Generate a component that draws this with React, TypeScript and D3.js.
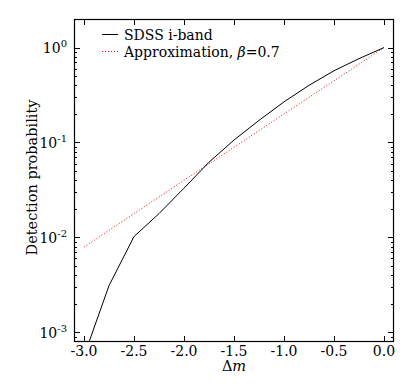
import React, { useEffect, useRef } from 'react';
import * as d3 from 'd3';

// SDSS i-band detection probability vs magnitude offset
const sdssDm = [-3.0, -2.75, -2.5, -2.25, -2.0, -1.75, -1.5, -1.25, -1.0, -0.75, -0.5, -0.25, 0.0];
const sdssProb = [0.00056, 0.0031, 0.0102, 0.0178, 0.033, 0.062, 0.106, 0.171, 0.268, 0.4, 0.57, 0.765, 1.0];

// approximation, beta = 0.7
const approxDm = [-3.0, -2.5, -2.0, -1.5, -1.0, -0.5, 0.0];
const approxProb = [0.0079, 0.0178, 0.04, 0.089, 0.2, 0.447, 1.0];

const xTicks = [-3.0, -2.5, -2.0, -1.5, -1.0, -0.5, 0.0];
const yTicks = [1e-3, 1e-2, 1e-1, 1];
const yExponents = ['-3', '-2', '-1', '0'];

const W = 415;
const H = 391;
const FONT = '"DejaVu Serif", serif';

const Chart = () => {
  const ref = useRef<SVGSVGElement>(null);

  useEffect(() => {
    const m = { left: 74, right: 394, top: 19, bottom: 342 };
    const x = d3.scaleLinear().domain([-3.1, 0.1]).range([m.left, m.right]);
    const y = d3.scaleLog().domain([7.9e-4, 2]).range([m.bottom, m.top]);

    const svg = d3.select(ref.current);
    svg.selectAll('*').remove();

    svg.append('defs').append('clipPath').attr('id', 'plot-clip')
      .append('rect')
      .attr('x', m.left).attr('y', m.top)
      .attr('width', m.right - m.left).attr('height', m.bottom - m.top);

    const line = d3.line<[number, number]>()
      .x(d => x(d[0]))
      .y(d => y(d[1]));

    const plot = svg.append('g').attr('clip-path', 'url(#plot-clip)');

    plot.append('path')
      .datum(approxDm.map((d, i) => [d, approxProb[i]] as [number, number]))
      .attr('d', line)
      .attr('fill', 'none')
      .attr('stroke', '#ff0000')
      .attr('stroke-width', 1)
      .attr('stroke-dasharray', '1,2');

    plot.append('path')
      .datum(sdssDm.map((d, i) => [d, sdssProb[i]] as [number, number]))
      .attr('d', line)
      .attr('fill', 'none')
      .attr('stroke', '#000')
      .attr('stroke-width', 1);

    const ticks = svg.append('g').attr('stroke', '#000').attr('stroke-width', 1);

    // x ticks, top and bottom, inward
    xTicks.forEach(t => {
      const px = Math.round(x(t)) + 0.5;
      ticks.append('line').attr('x1', px).attr('x2', px).attr('y1', m.bottom).attr('y2', m.bottom - 6);
      ticks.append('line').attr('x1', px).attr('x2', px).attr('y1', m.top).attr('y2', m.top + 6);
    });

    // y ticks: majors and minors on both sides
    const [lo, hi] = y.domain();
    for (let e = -4; e <= 0; e++) {
      for (let k = 1; k <= 9; k++) {
        const v = k * Math.pow(10, e);
        if (v < lo || v > hi) continue;
        const py = Math.round(y(v)) + 0.5;
        const len = k === 1 ? 6 : 3;
        ticks.append('line').attr('x1', m.left).attr('x2', m.left + len).attr('y1', py).attr('y2', py);
        ticks.append('line').attr('x1', m.right).attr('x2', m.right - len).attr('y1', py).attr('y2', py);
      }
    }

    // frame
    svg.append('rect')
      .attr('x', m.left + 0.5).attr('y', m.top + 0.5)
      .attr('width', m.right - m.left - 1).attr('height', m.bottom - m.top - 1)
      .attr('fill', 'none').attr('stroke', '#000').attr('stroke-width', 1.2);

    const labels = svg.append('g').attr('font-family', FONT).attr('fill', '#000');

    labels.selectAll('text.xt')
      .data(xTicks)
      .join('text')
      .attr('class', 'xt')
      .attr('x', d => x(d))
      .attr('y', 356)
      .attr('text-anchor', 'middle')
      .attr('font-size', 14)
      .text(d => d.toFixed(1));

    yTicks.forEach((t, i) => {
      const txt = labels.append('text')
        .attr('x', 67)
        .attr('y', y(t) + 5.5)
        .attr('text-anchor', 'end')
        .attr('font-size', 14);
      txt.append('tspan').text('10');
      txt.append('tspan').attr('dy', -6).attr('font-size', 10).text(yExponents[i]);
    });

    labels.append('text')
      .attr('transform', `translate(37,${(m.top + m.bottom) / 2 - 3}) rotate(-90)`)
      .attr('text-anchor', 'middle')
      .attr('font-size', 14.5)
      .text('Detection probability');

    const xl = labels.append('text')
      .attr('x', (m.left + m.right) / 2)
      .attr('y', 371)
      .attr('text-anchor', 'middle')
      .attr('font-size', 14.5);
    xl.append('tspan').text('Δ');
    xl.append('tspan').attr('font-style', 'italic').text('m');

    // legend
    const lg = svg.append('g');
    lg.append('line').attr('x1', 102).attr('x2', 118).attr('y1', 34.5).attr('y2', 34.5)
      .attr('stroke', '#000').attr('stroke-width', 1);
    lg.append('text').attr('x', 124).attr('y', 39.5).attr('font-family', FONT).attr('font-size', 14)
      .text('SDSS i-band');
    lg.append('line').attr('x1', 102).attr('x2', 118).attr('y1', 51.5).attr('y2', 51.5)
      .attr('stroke', '#ff0000').attr('stroke-width', 1).attr('stroke-dasharray', '1,2');
    const t2 = lg.append('text').attr('x', 124).attr('y', 56.5).attr('font-family', FONT).attr('font-size', 14);
    t2.append('tspan').text('Approximation, ');
    t2.append('tspan').attr('font-style', 'italic').text('β');
    t2.append('tspan').text('=0.7');
  }, []);

  return <svg ref={ref} width={W} height={H} style={{ display: 'block' }} />;
};

export default function App() {
  return (
    <div style={{ position: 'absolute', left: 0, top: 0, background: '#fff' }}>
      <Chart />
    </div>
  );
}
